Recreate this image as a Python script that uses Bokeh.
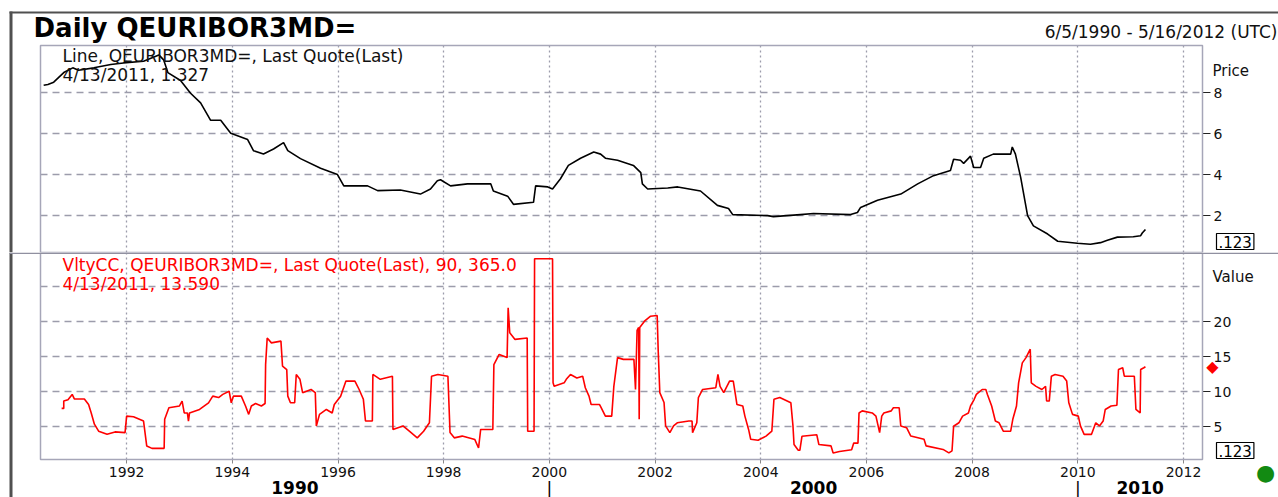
from bokeh.plotting import figure
from bokeh.models import Range1d, LinearAxis, FixedTicker, Grid, Label, BoxAnnotation
from bokeh.layouts import column
from bokeh.embed import file_html
from bokeh.resources import INLINE

# ---------------- data ----------------
price_t = [1990.43, 1990.51, 1990.62, 1990.81, 1990.98, 1991.09, 1991.38, 1991.70, 1991.94,
           1992.32, 1992.61, 1992.70, 1992.78, 1993.02, 1993.21, 1993.40, 1993.59, 1993.78,
           1993.97, 1994.29, 1994.40, 1994.59, 1994.78, 1994.97, 1995.05, 1995.29, 1995.67,
           1995.99, 1996.11, 1996.56, 1996.75, 1997.18, 1997.56, 1997.75, 1997.88, 1997.94,
           1998.13, 1998.45, 1998.89, 1998.94, 1999.21, 1999.32, 1999.70, 1999.74, 1999.97,
           2000.06, 2000.21, 2000.36, 2000.59, 2000.84, 2000.97, 2001.06, 2001.29, 2001.59,
           2001.73, 2001.76, 2001.86, 2002.24, 2002.43, 2002.86, 2003.18, 2003.39, 2003.47,
           2004.13, 2004.24, 2004.75, 2005.00, 2005.70, 2005.83, 2005.89, 2006.21, 2006.65,
           2006.97, 2007.27, 2007.59, 2007.65, 2007.78, 2007.84, 2007.97, 2008.03, 2008.16,
           2008.22, 2008.40, 2008.73, 2008.76, 2008.82, 2008.92, 2009.05, 2009.16, 2009.43,
           2009.62, 2009.99, 2010.24, 2010.43, 2010.56, 2010.75, 2011.05, 2011.19, 2011.22,
           2011.28]
price_v = [8.36, 8.40, 8.51, 8.98, 9.21, 9.09, 9.21, 9.37, 9.45,
           9.53, 9.84, 9.60, 8.98, 8.59, 7.97, 7.50, 6.65, 6.65,
           6.02, 5.71, 5.17, 5.01, 5.25, 5.56, 5.17, 4.78, 4.31,
           4.00, 3.45, 3.45, 3.22, 3.25, 3.05, 3.30, 3.70, 3.75,
           3.45, 3.55, 3.55, 3.20, 2.95, 2.55, 2.65, 3.45, 3.40,
           3.30, 3.80, 4.45, 4.80, 5.10, 5.00, 4.80, 4.70, 4.45,
           4.10, 3.55, 3.30, 3.35, 3.40, 3.20, 2.50, 2.35, 2.05,
           2.00, 1.95, 2.05, 2.10, 2.05, 2.15, 2.40, 2.75, 3.05,
           3.55, 3.95, 4.20, 4.75, 4.70, 4.55, 4.90, 4.35, 4.35,
           4.80, 5.00, 5.00, 5.35, 5.00, 3.85, 2.00, 1.50, 1.10,
           0.75, 0.65, 0.60, 0.68, 0.80, 0.95, 0.97, 1.02, 1.15,
           1.327]

vol_t = [1990.77, 1990.81, 1990.81, 1990.89, 1990.97, 1991.01, 1991.09, 1991.20, 1991.28,
         1991.33, 1991.39, 1991.47, 1991.63, 1991.78, 1991.97, 1992.00, 1992.13, 1992.32,
         1992.38, 1992.48, 1992.71, 1992.72, 1992.80, 1993.00, 1993.05, 1993.09, 1993.15,
         1993.17, 1993.19, 1993.38, 1993.55, 1993.63, 1993.74, 1993.82, 1993.94, 1993.98,
         1994.02, 1994.17, 1994.25, 1994.31, 1994.36, 1994.44, 1994.55, 1994.62, 1994.63,
         1994.66, 1994.74, 1994.92, 1994.95, 1995.03, 1995.05, 1995.10, 1995.18, 1995.21,
         1995.28, 1995.33, 1995.49, 1995.57, 1995.59, 1995.65, 1995.78, 1995.89, 1995.93,
         1996.05, 1996.15, 1996.32, 1996.40, 1996.48, 1996.52, 1996.65, 1996.66, 1996.80,
         1997.03, 1997.04, 1997.23, 1997.35, 1997.50, 1997.62, 1997.73, 1997.77, 1997.89,
         1998.08, 1998.12, 1998.20, 1998.35, 1998.59, 1998.66, 1998.70, 1998.93, 1998.95,
         1999.05, 1999.20, 1999.22, 1999.25, 1999.35, 1999.58, 1999.59, 1999.71, 1999.72,
         2000.06, 2000.07, 2000.09, 2000.28, 2000.32, 2000.40, 2000.52, 2000.63, 2000.68,
         2000.75, 2000.79, 2000.95, 2000.98, 2001.06, 2001.18, 2001.22, 2001.29, 2001.40,
         2001.60, 2001.63, 2001.66, 2001.69, 2001.70, 2001.71, 2001.80, 2001.91, 2002.04,
         2002.06, 2002.09, 2002.17, 2002.20, 2002.28, 2002.35, 2002.42, 2002.64, 2002.70,
         2002.71, 2002.79, 2002.82, 2002.90, 2003.15, 2003.19, 2003.23, 2003.30, 2003.41,
         2003.48, 2003.52, 2003.55, 2003.66, 2003.70, 2003.77, 2003.81, 2003.95, 2004.10,
         2004.21, 2004.25, 2004.36, 2004.57, 2004.61, 2004.63, 2004.71, 2004.74, 2004.78,
         2005.06, 2005.10, 2005.33, 2005.37, 2005.49, 2005.72, 2005.76, 2005.84, 2005.86,
         2005.92, 2006.11, 2006.18, 2006.25, 2006.29, 2006.33, 2006.47, 2006.51, 2006.62,
         2006.65, 2006.76, 2006.84, 2007.09, 2007.13, 2007.45, 2007.56, 2007.62, 2007.65,
         2007.75, 2007.82, 2007.93, 2007.97, 2008.04, 2008.08, 2008.19, 2008.26, 2008.29,
         2008.37, 2008.44, 2008.51, 2008.59, 2008.73, 2008.77, 2008.84, 2008.88, 2008.95,
         2009.02, 2009.10, 2009.12, 2009.21, 2009.32, 2009.39, 2009.41, 2009.46, 2009.50,
         2009.57, 2009.72, 2009.79, 2009.83, 2009.90, 2010.01, 2010.05, 2010.12, 2010.26,
         2010.34, 2010.41, 2010.48, 2010.52, 2010.63, 2010.74, 2010.77, 2010.85, 2010.88,
         2011.07, 2011.10, 2011.18, 2011.19, 2011.25, 2011.28]
vol_v = [7.65, 7.65, 8.70, 8.90, 9.65, 9.00, 9.00, 9.00, 8.20,
         7.00, 5.40, 4.40, 3.95, 4.30, 4.20, 6.55, 6.45, 5.85,
         2.30, 1.95, 1.95, 6.10, 7.75, 8.00, 8.70, 7.00, 7.00,
         5.85, 7.00, 7.50, 8.45, 9.40, 9.20, 9.65, 10.10, 8.45,
         9.40, 9.40, 8.00, 6.80, 8.00, 8.35, 8.00, 8.35, 13.90,
         17.70, 17.00, 17.25, 13.70, 13.20, 9.40, 8.45, 8.45, 12.50,
         11.80, 9.90, 10.35, 9.90, 5.15, 6.80, 7.50, 7.00, 8.20,
         9.40, 11.55, 11.55, 10.35, 8.95, 5.85, 5.85, 12.50, 11.80,
         12.25, 4.65, 5.15, 4.40, 3.45, 4.40, 5.60, 12.25, 12.50,
         12.25, 4.20, 3.45, 3.70, 3.20, 2.00, 4.65, 4.65, 13.90,
         15.35, 14.90, 22.00, 18.45, 17.50, 17.70, 4.40, 4.40, 29.00,
         29.00, 11.30, 10.80, 11.30, 11.80, 12.50, 12.00, 12.25, 10.60,
         9.40, 8.20, 8.20, 7.75, 6.55, 6.55, 10.80, 14.90, 14.65,
         14.65, 10.35, 18.80, 19.20, 6.10, 19.20, 20.10, 20.80, 20.90,
         15.80, 9.90, 8.50, 5.15, 4.20, 5.15, 5.60, 5.85, 5.85,
         4.20, 5.60, 9.20, 10.35, 10.60, 12.50, 10.80, 9.90, 11.55,
         11.55, 9.65, 8.20, 8.00, 6.55, 4.65, 3.25, 3.10, 3.70,
         4.40, 8.95, 9.20, 8.45, 5.15, 2.50, 1.67, 1.67, 3.67,
         3.90, 2.50, 2.30, 1.30, 1.50, 1.75, 2.70, 2.70, 7.00,
         7.30, 7.00, 6.55, 4.20, 6.55, 7.00, 7.30, 7.75, 7.75,
         5.15, 4.90, 3.70, 3.25, 2.30, 1.80, 1.30, 1.60, 5.10,
         5.60, 6.55, 7.00, 8.00, 8.95, 9.65, 10.35, 10.35, 9.65,
         8.00, 5.85, 5.60, 4.40, 4.40, 6.10, 8.00, 11.30, 14.15,
         14.90, 16.10, 11.30, 10.80, 10.35, 10.80, 8.70, 8.70, 12.25,
         12.50, 12.25, 11.55, 8.45, 6.80, 6.55, 5.15, 3.95, 3.95,
         5.60, 5.15, 5.85, 7.50, 8.00, 8.10, 13.20, 13.45, 12.25,
         12.25, 7.50, 7.00, 13.20, 13.45, 13.59]

x_ticks = [1992, 1994, 1996, 1998, 2000, 2002, 2004, 2006, 2008, 2010, 2012]
price_ticks = [2, 4, 6, 8]
vol_ticks = [5, 10, 15, 20]
vol_grid = [5, 10, 15, 20, 25]
decades = [1990, 2000, 2010]
last_date = "4/13/2011"
title_text = "Daily QEURIBOR3MD="
range_text = "6/5/1990 - 5/16/2012 (UTC)"
price_legend = "Line, QEURIBOR3MD=, Last Quote(Last)"
vol_legend = "VltyCC, QEURIBOR3MD=, Last Quote(Last),  90, 365.0"

# ---------------- layout helpers (page pixels -> data) ----------------
W = 1278
H1 = 252
H2 = 245
X0, X1 = 1990.37, 2012.36       # plot-area date span
Y1 = (0.2, 10.3)                # price panel span
Y2 = (0.36, 29.9)               # volatility panel span
FL, FR = 40, 1202               # page x of plot-area edges
T1, B1 = 45, 252                # page y of price panel
T2, B2 = 252, 459               # page y of volatility panel
ppy = (FR - FL) / (X1 - X0)
ppu1 = (B1 - T1) / (Y1[1] - Y1[0])
ppu2 = (B2 - T2) / (Y2[1] - Y2[0])


def xd(px):
    return X0 + (px - FL) / ppy


def y1d(py):
    return Y1[0] + (B1 - py) / ppu1


def y2d(py):
    return Y2[0] + (B2 - py) / ppu2


FONT = "DejaVu Sans"
GRID_C = "#9c9cab"
FRAME_C = "#a6a6b8"
DARK = "#505050"

xr = Range1d(xd(0), xd(W))


def box(p, l, r, t, b, color):
    p.add_layout(BoxAnnotation(left=l, right=r, top=t, bottom=b,
                               fill_color=color, fill_alpha=1, line_color=None))


def base_fig(h, yr_full, ypan, ymap, top_page, bottom_page):
    p = figure(width=W, height=h, x_range=xr, y_range=Range1d(*yr_full),
               output_backend="svg", toolbar_location=None,
               x_axis_location=None, y_axis_location=None,
               min_border=0)
    for g in p.grid:
        g.visible = False
    p.outline_line_color = None
    p.background_fill_color = "white"
    p.border_fill_color = "white"
    p.add_layout(Grid(dimension=0, ticker=FixedTicker(ticks=x_ticks), cross_bounds=ypan,
                      grid_line_color=GRID_C, grid_line_width=1.3, grid_line_dash="2 3"))
    # plot-area outline
    p.add_layout(BoxAnnotation(left=X0, right=X1, bottom=ypan[0], top=ypan[1],
                               fill_alpha=0, line_color=FRAME_C, line_alpha=1,
                               line_width=1.5))
    # outer frame left bar
    box(p, xd(9), xd(12), ymap(top_page), ymap(bottom_page), DARK)
    return p


def right_axis(ticks, ypan):
    return LinearAxis(ticker=FixedTicker(ticks=ticks), fixed_location=X1, bounds=ypan,
                      major_tick_out=8, major_tick_in=0,
                      minor_tick_out=0, minor_tick_in=0, minor_tick_line_color=None,
                      axis_line_color=None,
                      major_tick_line_color="#222222", major_label_standoff=3,
                      major_label_text_font=FONT, major_label_text_font_size="14px",
                      major_label_text_color="#111111")


def lab(p, x, y, text, size="14px", color="#111111", bold=False, align="left", **kw):
    p.add_layout(Label(x=x, y=y, text=text, text_font=FONT, text_font_size=size,
                       text_color=color, text_font_style="bold" if bold else "normal",
                       text_align=align, text_baseline="middle", **kw))


# ---------------- upper panel ----------------
p1 = base_fig(H1, (y1d(H1), y1d(0)), Y1, y1d, 11, H1)
p1.add_layout(Grid(dimension=1, ticker=FixedTicker(ticks=price_ticks), cross_bounds=(X0, X1),
                   grid_line_color=GRID_C, grid_line_width=1.3, grid_line_dash="7 5"))
p1.add_layout(right_axis(price_ticks, Y1), "right")
box(p1, xd(9), xd(W), y1d(11), y1d(13), DARK)
p1.line(price_t, price_v, line_color="black", line_width=1.6)

lab(p1, xd(33), y1d(27), title_text, size="26px", color="black", bold=True)
lab(p1, xd(1277), y1d(31), range_text, size="17px", align="right")
lab(p1, xd(62), y1d(55), price_legend, size="17px")
lab(p1, xd(62), y1d(74), f"{last_date}, {price_v[-1]:.3f}", size="17px")
lab(p1, xd(1212), y1d(70), "Price", size="15px")
lab(p1, xd(1216), y1d(241), ".123", size="15px", color="black",
    border_line_color="black", border_line_width=1.2,
    background_fill_color="white", padding=2)

# ---------------- lower panel ----------------
p2 = base_fig(H2, (y2d(252 + H2), y2d(252)), Y2, y2d, 252, 252 + H2)
p2.add_layout(Grid(dimension=1, ticker=FixedTicker(ticks=vol_grid), cross_bounds=(X0, X1),
                   grid_line_color=GRID_C, grid_line_width=1.3, grid_line_dash="7 5"))
p2.add_layout(right_axis(vol_ticks, Y2), "right")
p2.add_layout(LinearAxis(ticker=FixedTicker(ticks=x_ticks), fixed_location=Y2[0],
                         bounds=(X0, X1), major_tick_out=4, major_tick_in=0,
                         minor_tick_out=0, minor_tick_in=0, minor_tick_line_color=None,
                         axis_line_color=None, major_tick_line_color="#888888",
                         major_label_standoff=3, major_label_text_font=FONT,
                         major_label_text_font_size="14px",
                         major_label_text_color="#111111"), "below")
box(p2, xd(9), xd(W), y2d(252), y2d(253.5), "#9090a0")
p2.line(vol_t, vol_v, line_color="#ff0000", line_width=1.6)

lab(p2, xd(62), y2d(264), vol_legend, size="17px", color="#ff0000")
lab(p2, xd(62), y2d(283), f"{last_date}, {vol_v[-1]:.3f}", size="17px", color="#ff0000")
lab(p2, xd(1212), y2d(276), "Value", size="15px")
lab(p2, xd(1212), vol_v[-1], "\u25c6", size="16px", color="#ff0000", align="center")
lab(p2, xd(1216), y2d(450), ".123", size="15px", color="black",
    border_line_color="black", border_line_width=1.2,
    background_fill_color="white", padding=2)
lab(p2, xd(1265), y2d(472), "\u25cf", size="22px", color="#128a12", align="center")

bounds = [X0] + decades[1:] + [X1]
for i, d in enumerate(decades):
    lab(p2, (bounds[i] + bounds[i + 1]) / 2, y2d(487), str(d), size="17px",
        color="black", bold=True, align="center")
for d in decades[1:]:
    lab(p2, d, y2d(488), "|", size="17px", color="black", align="center")

layout = column(p1, p2, spacing=0)
open("out.html", "w").write(file_html(layout, INLINE))
